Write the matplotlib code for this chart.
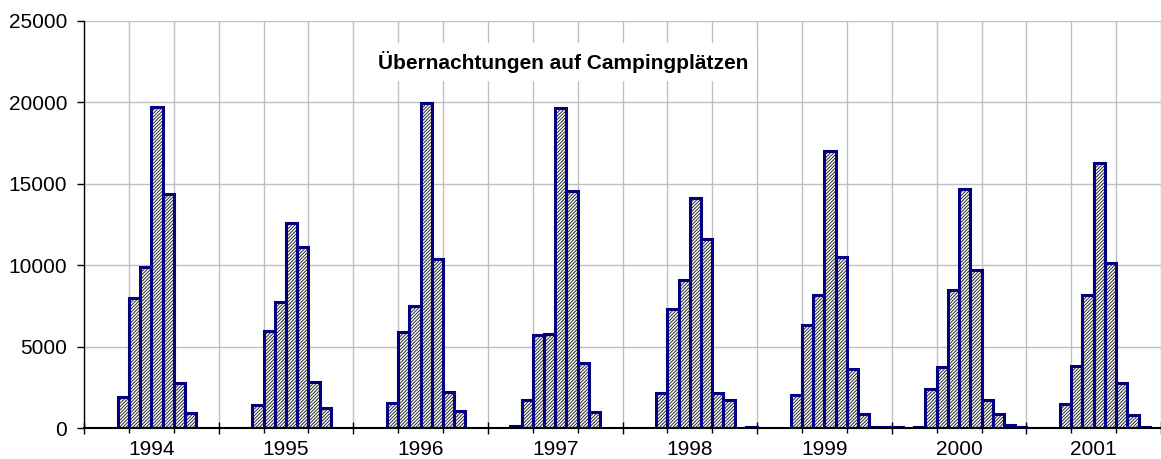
import numpy as np
import matplotlib.pyplot as plt

plt.rcParams['font.family'] = ['Liberation Sans', 'DejaVu Sans']
plt.rcParams['hatch.linewidth'] = 0.7

# Monthly overnight stays on camp sites, Jan..Dec per year
years = [1994, 1995, 1996, 1997, 1998, 1999, 2000, 2001]
v1994 = [0, 0, 0, 1900, 8000, 9900, 19700, 14400, 2750, 950, 0, 0]
v1995 = [0, 0, 0, 1400, 5950, 7750, 12600, 11100, 2850, 1200, 0, 0]
v1996 = [0, 0, 0, 1550, 5900, 7500, 19950, 10400, 2200, 1050, 0, 0]
v1997 = [0, 0, 150, 1700, 5700, 5800, 19650, 14550, 4000, 1000, 0, 0]
v1998 = [0, 0, 0, 2150, 7300, 9100, 14100, 11600, 2150, 1750, 0, 50]
v1999 = [0, 0, 0, 2000, 6300, 8200, 17000, 10500, 3600, 850, 50, 50]
v2000 = [50, 0, 50, 2400, 3750, 8450, 14650, 9700, 1700, 850, 180, 50]
v2001 = [0, 30, 30, 1450, 3800, 8150, 16300, 10150, 2750, 800, 40, 0]

values = np.array(v1994 + v1995 + v1996 + v1997 + v1998 + v1999 + v2000 + v2001, dtype=float)
months = np.arange(len(values))
shown = values > 0

fig = plt.figure(figsize=(11.61, 4.59), dpi=100)
ax = fig.add_axes([84 / 1161, 31 / 459, 1077 / 1161, 407 / 459])

# hatch layer, then navy outline
ax.bar(months[shown], values[shown], width=1, align='edge',
       facecolor='white', edgecolor='#2a2a2a', linewidth=0, hatch='//////////', zorder=2)
ax.bar(months[shown], values[shown], width=1, align='edge',
       facecolor='none', edgecolor='#000080', linewidth=2.2, zorder=2.5)

ax.set_xlim(0, 95.3)
ax.set_ylim(0, 25000)
ax.set_yticks(np.arange(0, 25001, 5000))

ax.set_xticks(np.arange(0, 97, 12))
ax.set_xticklabels([])
ax.set_xticks([m for m in range(0, 96, 4) if m % 12 != 0], minor=True)

ax.tick_params(axis='y', direction='out', length=5, width=1, pad=7, labelsize=15)
ax.tick_params(axis='x', which='major', direction='inout', length=9, width=1)
ax.tick_params(axis='x', which='minor', direction='out', length=3.5, width=1)

ax.set_axisbelow(True)
ax.grid(axis='y', color='#c0c0c0', linewidth=1)
ax.grid(axis='x', which='both', color='#c0c0c0', linewidth=1)

for s in ['top', 'right']:
    ax.spines[s].set_visible(False)
ax.spines['left'].set_linewidth(1)
ax.spines['bottom'].set_linewidth(1.5)
ax.spines['bottom'].set_zorder(5)

for i, yr in enumerate(years):
    ax.text(12 * i + 6, -0.03, str(yr), transform=ax.get_xaxis_transform(),
            ha='center', va='top', fontsize=15)

ax.text(0.445, 0.899, 'Übernachtungen auf Campingplätzen', transform=ax.transAxes,
        ha='center', va='center', fontsize=15, fontweight='bold', zorder=4,
        bbox=dict(facecolor='white', edgecolor='none', boxstyle='square,pad=0.4'))

plt.savefig('out.png', dpi=100)
